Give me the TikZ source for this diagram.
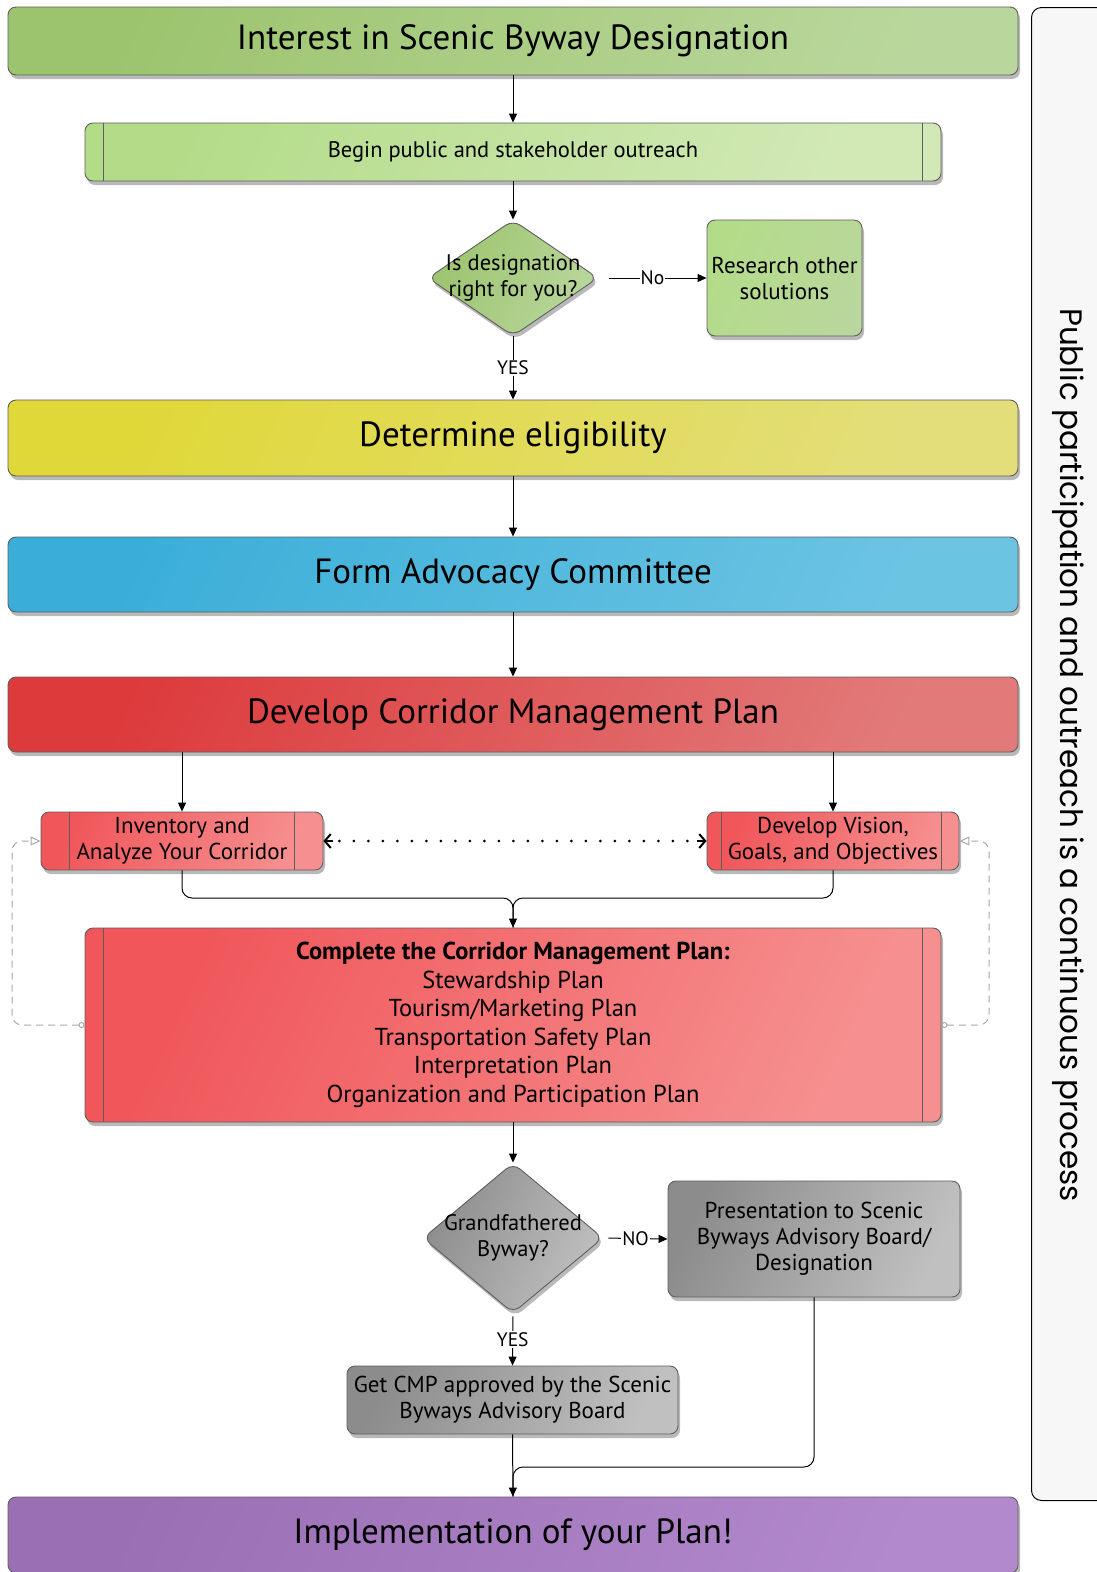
\documentclass[tikz,border=0pt]{standalone}
\usepackage{fontspec}
\setmainfont{PT Sans}
\newfontfamily\sidefont{Poppins}
\usetikzlibrary{shapes.geometric,arrows.meta,shadows}
\definecolor{bord}{HTML}{5E5E5E}
\definecolor{gA}{HTML}{9CC46E}\definecolor{gB}{HTML}{B9D79C}
\definecolor{lgA}{HTML}{B3DC89}\definecolor{lgB}{HTML}{D2E9B6}
\definecolor{yA}{HTML}{E0D838}\definecolor{yB}{HTML}{E3DE7A}
\definecolor{bA}{HTML}{3AAED8}\definecolor{bB}{HTML}{6CC4E3}
\definecolor{rA}{HTML}{DD3A3C}\definecolor{rB}{HTML}{E27A7A}
\definecolor{pA}{HTML}{F0565A}\definecolor{pB}{HTML}{F69090}
\definecolor{grA}{HTML}{8C8C8C}\definecolor{grB}{HTML}{C0C0C0}
\definecolor{vA}{HTML}{9A6FB4}\definecolor{vB}{HTML}{B389CD}
\definecolor{panelc}{HTML}{F7F7F7}
\definecolor{dashc}{HTML}{A8A8A8}
\tikzset{
  box/.style={draw=bord, line width=0.9pt, rounded corners=8pt, align=center, inner sep=2pt,
    drop shadow={shadow xshift=2pt, shadow yshift=-4pt, opacity=0.55, fill=gray}},
  grad/.style 2 args={left color=#1, right color=#2, shading angle=65},
  dia/.style={box, shape=diamond, inner sep=0pt, rounded corners=9pt},
  big/.style={font=\fontsize{35}{40}\selectfont},
  mid/.style={font=\fontsize{23}{26}\selectfont},
  dtx/.style={font=\fontsize{22.5}{26}\selectfont},
  arr/.style={line width=1pt, -{Triangle[length=9pt,width=8pt]}},
  lbl/.style={fill=white, inner sep=1pt, font=\fontsize{19.5}{22}\selectfont},
  fb/.style={draw=dashc, line width=1pt, dash pattern=on 7pt off 5pt, rounded corners=10pt},
  inner/.style={draw=bord, line width=0.9pt},
  barb/.style={line width=1.2pt, -{Straight Barb[length=6pt,width=14pt,line width=2pt]}}
}
\begin{document}
\begin{tikzpicture}[x=1pt,y=-1pt]
\useasboundingbox (0,0) rectangle (1097,1572);
\clip (0,0) rectangle (1097,1572);

% side panel
\node[draw=black, line width=1pt, fill=panelc, rounded corners=10pt, minimum width=90pt, minimum height=1493pt, anchor=north west] (side) at (1031,7) {};
\node[rotate=-90, font=\sidefont\fontsize{31}{34}\selectfont] (sidetxt) at (1068,755) {Public participation and outreach is a continuous process};

% main boxes
\node[box, grad={gA}{gB}, big, minimum width=1010pt, minimum height=68pt] (t1) at (513,41) {Interest in Scenic Byway Designation};
\node[box, grad={lgA}{lgB}, font=\fontsize{22.5}{26}\selectfont, minimum width=856pt, minimum height=58pt] (b1) at (513,152) {Begin public and stakeholder outreach};
\node[dia, grad={gA}{gB}, minimum width=170pt, minimum height=116pt,
  label={[dtx, align=center]center:Is designation\\right for you?}] (d1) at (513,278) {};
\node[box, grad={lgA}{gB}, mid, minimum width=155pt, minimum height=116pt] (r1) at (784.5,278) {Research other\\solutions};
\node[box, grad={yA}{yB}, big, minimum width=1010pt, minimum height=76pt] (e1) at (513,438) {Determine eligibility};
\node[box, grad={bA}{bB}, big, minimum width=1010pt, minimum height=75pt] (f1) at (513,574.5) {Form Advocacy Committee};
\node[box, grad={rA}{rB}, big, minimum width=1010pt, minimum height=75pt] (c1) at (513,714.5) {Develop Corridor Management Plan};
\node[box, grad={pA}{pB}, mid, minimum width=282pt, minimum height=58pt, inner sep=0pt] (inv) at (182,841) {Inventory and\\Analyze Your Corridor};
\node[box, grad={pA}{pB}, mid, minimum width=252pt, minimum height=58pt, inner sep=0pt] (vis) at (833,841) {Develop Vision,\\Goals, and Objectives};
\node[box, grad={pA}{pB}, minimum width=856pt, minimum height=194pt, font=\fontsize{24.5}{28.5}\selectfont] (full) at (513,1025)
  {\textbf{Complete the Corridor Management Plan:}\\Stewardship Plan\\Tourism/Marketing Plan\\Transportation Safety Plan\\Interpretation Plan\\Organization and Participation Plan};
\node[dia, grad={grA}{grB}, minimum width=180pt, minimum height=150pt,
  label={[dtx, align=center]center:Grandfathered\\Byway?}] (d2) at (513,1238) {};
\node[box, grad={grA}{grB}, mid, minimum width=292pt, minimum height=116pt] (pres) at (814,1239) {Presentation to Scenic\\Byways Advisory Board/\\Designation};
\node[box, grad={grA}{grB}, mid, minimum width=331pt, minimum height=68pt] (get) at (512.5,1400) {Get CMP approved by the Scenic\\Byways Advisory Board};
\node[box, grad={vA}{vB}, big, minimum width=1010pt, minimum height=76pt] (impl) at (513,1535) {Implementation of your Plan!};

% inner lines of process boxes
\draw[inner] ([xshift=19pt]b1.north west) -- ([xshift=19pt]b1.south west);
\draw[inner] ([xshift=-19pt]b1.north east) -- ([xshift=-19pt]b1.south east);
\draw[inner] ([xshift=29pt]inv.north west) -- ([xshift=29pt]inv.south west);
\draw[inner] ([xshift=-29pt]inv.north east) -- ([xshift=-29pt]inv.south east);
\draw[inner] ([xshift=15pt]vis.north west) -- ([xshift=15pt]vis.south west);
\draw[inner] ([xshift=-18pt]vis.north east) -- ([xshift=-18pt]vis.south east);
\draw[inner] ([xshift=19pt]full.north west) -- ([xshift=19pt]full.south west);
\draw[inner] ([xshift=-19pt]full.north east) -- ([xshift=-19pt]full.south east);

% connectors
\draw[arr] (t1) -- (b1);
\draw[arr] (b1) -- (d1);
\draw[arr, shorten <=11pt] (d1.east) -- node[lbl]{No} (r1.west);
\draw[arr] (d1.south) -- node[lbl, pos=0.5]{YES} (e1.north);
\draw[arr] (e1) -- (f1);
\draw[arr] (f1) -- (c1);
\draw[arr] (inv.north |- c1.south) -- (inv.north);
\draw[arr] (vis.north |- c1.south) -- (vis.north);
\draw[line width=3pt, line cap=round, dash pattern=on 0pt off 14.5pt, shorten <=16pt, shorten >=14pt] (inv.east) -- (vis.west);
\draw[barb] ([xshift=10pt]inv.east) -- (inv.east);
\draw[barb] ([xshift=-10pt]vis.west) -- (vis.west);
\coordinate (m1) at (513,898);
\draw[line width=1pt, rounded corners=10pt] (inv.south) |- (m1) -- (full.north);
\draw[arr, rounded corners=10pt] (vis.south) |- (m1) -- (full.north);
\draw[fb, {Circle[open,length=6pt,width=6pt]}-{Triangle[open,length=10pt,width=9pt]}] (full.west) -| (12,841) -- (inv.west);
\draw[fb, {Circle[open,length=6pt,width=6pt]}-{Triangle[open,length=10pt,width=9pt]}] (full.east) -| (989,841) -- (vis.east);
\draw[arr] (full) -- (d2);
\draw[arr, shorten <=5pt] (d2.east) -- node[lbl]{NO} (pres.west);
\draw[arr, shorten <=3pt] (d2.south) -- node[lbl, pos=0.5]{YES} (get.north);
\coordinate (m2) at (513,1467);
\draw[line width=1pt, rounded corners=10pt] (pres.south) |- (m2) -- (impl.north);
\draw[arr] (get) -- (impl);
\end{tikzpicture}
\end{document}
